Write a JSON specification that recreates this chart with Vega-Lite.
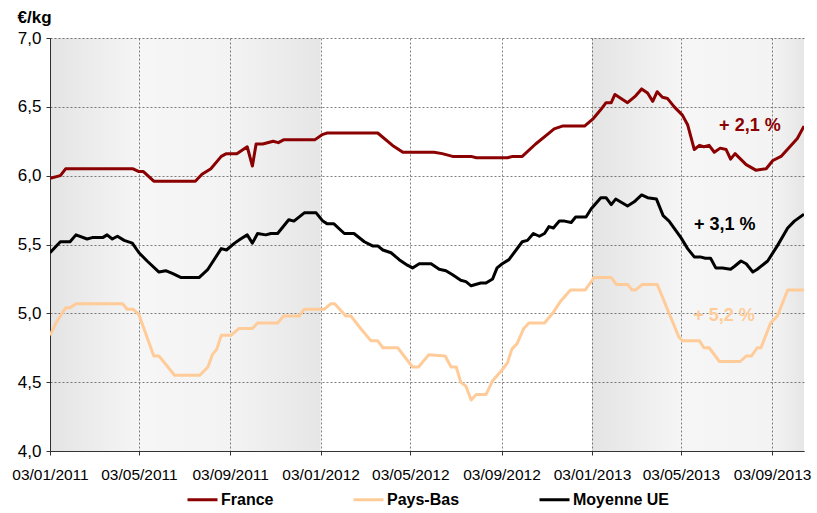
{
  "$schema": "https://vega.github.io/schema/vega-lite/v6.json",
  "width": 754,
  "height": 413,
  "autosize": {"type": "none"},
  "padding": {"left": 50, "top": 38, "right": 13, "bottom": 62},
  "config": {
    "font": "Liberation Sans",
    "view": {"stroke": null},
    "background": "white"
  },
  "datasets": {
    "bands": [
      {"start": "2011-01-03", "end": "2011-05-03", "part": "rise"},
      {"start": "2011-05-03", "end": "2011-09-03", "part": "flat"},
      {"start": "2011-09-03", "end": "2012-01-03", "part": "fall"},
      {"start": "2013-01-03", "end": "2013-05-03", "part": "rise"},
      {"start": "2013-05-03", "end": "2013-09-03", "part": "flat"},
      {"start": "2013-09-03", "end": "2013-10-16", "part": "fall"}
    ],
    "notes": [
      {"date": "2013-08-04", "value": 6.358, "series": "France", "label": "+ 2,1 %"},
      {"date": "2013-07-01", "value": 5.643, "series": "Moyenne UE", "label": "+ 3,1 %"},
      {"date": "2013-06-30", "value": 4.977, "series": "Pays-Bas", "label": "+ 5,2 %"}
    ],
    "prices": [
      {"date": "2011-01-03", "series": "France", "value": 5.98},
      {"date": "2011-01-17", "series": "France", "value": 6.00},
      {"date": "2011-01-24", "series": "France", "value": 6.05},
      {"date": "2011-04-25", "series": "France", "value": 6.05},
      {"date": "2011-05-03", "series": "France", "value": 6.03},
      {"date": "2011-05-09", "series": "France", "value": 6.03},
      {"date": "2011-05-23", "series": "France", "value": 5.96},
      {"date": "2011-07-18", "series": "France", "value": 5.96},
      {"date": "2011-07-27", "series": "France", "value": 6.01},
      {"date": "2011-08-08", "series": "France", "value": 6.05},
      {"date": "2011-08-22", "series": "France", "value": 6.14},
      {"date": "2011-08-29", "series": "France", "value": 6.16},
      {"date": "2011-09-12", "series": "France", "value": 6.16},
      {"date": "2011-09-26", "series": "France", "value": 6.21},
      {"date": "2011-10-03", "series": "France", "value": 6.07},
      {"date": "2011-10-08", "series": "France", "value": 6.23},
      {"date": "2011-10-17", "series": "France", "value": 6.23},
      {"date": "2011-10-31", "series": "France", "value": 6.25},
      {"date": "2011-11-07", "series": "France", "value": 6.24},
      {"date": "2011-11-14", "series": "France", "value": 6.26},
      {"date": "2011-12-26", "series": "France", "value": 6.26},
      {"date": "2012-01-06", "series": "France", "value": 6.30},
      {"date": "2012-01-12", "series": "France", "value": 6.31},
      {"date": "2012-03-20", "series": "France", "value": 6.31},
      {"date": "2012-04-09", "series": "France", "value": 6.22},
      {"date": "2012-04-23", "series": "France", "value": 6.17},
      {"date": "2012-06-04", "series": "France", "value": 6.17},
      {"date": "2012-06-15", "series": "France", "value": 6.16},
      {"date": "2012-06-29", "series": "France", "value": 6.14},
      {"date": "2012-07-24", "series": "France", "value": 6.14},
      {"date": "2012-07-31", "series": "France", "value": 6.13},
      {"date": "2012-09-11", "series": "France", "value": 6.13},
      {"date": "2012-09-18", "series": "France", "value": 6.14},
      {"date": "2012-10-01", "series": "France", "value": 6.14},
      {"date": "2012-10-19", "series": "France", "value": 6.23},
      {"date": "2012-11-04", "series": "France", "value": 6.30},
      {"date": "2012-11-13", "series": "France", "value": 6.34},
      {"date": "2012-11-24", "series": "France", "value": 6.36},
      {"date": "2012-12-24", "series": "France", "value": 6.36},
      {"date": "2013-01-04", "series": "France", "value": 6.41},
      {"date": "2013-01-15", "series": "France", "value": 6.48},
      {"date": "2013-01-22", "series": "France", "value": 6.53},
      {"date": "2013-01-29", "series": "France", "value": 6.53},
      {"date": "2013-02-03", "series": "France", "value": 6.59},
      {"date": "2013-02-20", "series": "France", "value": 6.53},
      {"date": "2013-03-03", "series": "France", "value": 6.58},
      {"date": "2013-03-11", "series": "France", "value": 6.63},
      {"date": "2013-03-19", "series": "France", "value": 6.60},
      {"date": "2013-03-26", "series": "France", "value": 6.54},
      {"date": "2013-04-01", "series": "France", "value": 6.61},
      {"date": "2013-04-08", "series": "France", "value": 6.57},
      {"date": "2013-04-15", "series": "France", "value": 6.56},
      {"date": "2013-04-24", "series": "France", "value": 6.50},
      {"date": "2013-05-05", "series": "France", "value": 6.44},
      {"date": "2013-05-12", "series": "France", "value": 6.37},
      {"date": "2013-05-21", "series": "France", "value": 6.19},
      {"date": "2013-05-28", "series": "France", "value": 6.22},
      {"date": "2013-06-03", "series": "France", "value": 6.21},
      {"date": "2013-06-10", "series": "France", "value": 6.22},
      {"date": "2013-06-17", "series": "France", "value": 6.17},
      {"date": "2013-06-25", "series": "France", "value": 6.20},
      {"date": "2013-07-03", "series": "France", "value": 6.19},
      {"date": "2013-07-09", "series": "France", "value": 6.12},
      {"date": "2013-07-15", "series": "France", "value": 6.16},
      {"date": "2013-07-30", "series": "France", "value": 6.08},
      {"date": "2013-08-12", "series": "France", "value": 6.04},
      {"date": "2013-08-26", "series": "France", "value": 6.05},
      {"date": "2013-09-04", "series": "France", "value": 6.11},
      {"date": "2013-09-15", "series": "France", "value": 6.14},
      {"date": "2013-10-07", "series": "France", "value": 6.27},
      {"date": "2013-10-16", "series": "France", "value": 6.36},

      {"date": "2011-01-03", "series": "Pays-Bas", "value": 4.84},
      {"date": "2011-01-11", "series": "Pays-Bas", "value": 4.93},
      {"date": "2011-01-24", "series": "Pays-Bas", "value": 5.04},
      {"date": "2011-01-30", "series": "Pays-Bas", "value": 5.04},
      {"date": "2011-02-07", "series": "Pays-Bas", "value": 5.07},
      {"date": "2011-04-11", "series": "Pays-Bas", "value": 5.07},
      {"date": "2011-04-17", "series": "Pays-Bas", "value": 5.03},
      {"date": "2011-04-25", "series": "Pays-Bas", "value": 5.03},
      {"date": "2011-05-03", "series": "Pays-Bas", "value": 4.99},
      {"date": "2011-05-23", "series": "Pays-Bas", "value": 4.69},
      {"date": "2011-05-30", "series": "Pays-Bas", "value": 4.69},
      {"date": "2011-06-20", "series": "Pays-Bas", "value": 4.55},
      {"date": "2011-07-24", "series": "Pays-Bas", "value": 4.55},
      {"date": "2011-08-04", "series": "Pays-Bas", "value": 4.61},
      {"date": "2011-08-10", "series": "Pays-Bas", "value": 4.70},
      {"date": "2011-08-16", "series": "Pays-Bas", "value": 4.74},
      {"date": "2011-08-22", "series": "Pays-Bas", "value": 4.84},
      {"date": "2011-09-04", "series": "Pays-Bas", "value": 4.84},
      {"date": "2011-09-15", "series": "Pays-Bas", "value": 4.89},
      {"date": "2011-10-03", "series": "Pays-Bas", "value": 4.89},
      {"date": "2011-10-10", "series": "Pays-Bas", "value": 4.93},
      {"date": "2011-11-06", "series": "Pays-Bas", "value": 4.93},
      {"date": "2011-11-14", "series": "Pays-Bas", "value": 4.98},
      {"date": "2011-12-05", "series": "Pays-Bas", "value": 4.98},
      {"date": "2011-12-12", "series": "Pays-Bas", "value": 5.03},
      {"date": "2012-01-08", "series": "Pays-Bas", "value": 5.03},
      {"date": "2012-01-17", "series": "Pays-Bas", "value": 5.07},
      {"date": "2012-01-22", "series": "Pays-Bas", "value": 5.07},
      {"date": "2012-02-06", "series": "Pays-Bas", "value": 4.98},
      {"date": "2012-02-13", "series": "Pays-Bas", "value": 4.98},
      {"date": "2012-02-26", "series": "Pays-Bas", "value": 4.89},
      {"date": "2012-03-11", "series": "Pays-Bas", "value": 4.80},
      {"date": "2012-03-20", "series": "Pays-Bas", "value": 4.80},
      {"date": "2012-03-27", "series": "Pays-Bas", "value": 4.75},
      {"date": "2012-04-16", "series": "Pays-Bas", "value": 4.75},
      {"date": "2012-05-06", "series": "Pays-Bas", "value": 4.61},
      {"date": "2012-05-14", "series": "Pays-Bas", "value": 4.61},
      {"date": "2012-05-28", "series": "Pays-Bas", "value": 4.70},
      {"date": "2012-06-19", "series": "Pays-Bas", "value": 4.69},
      {"date": "2012-06-27", "series": "Pays-Bas", "value": 4.61},
      {"date": "2012-07-04", "series": "Pays-Bas", "value": 4.61},
      {"date": "2012-07-10", "series": "Pays-Bas", "value": 4.50},
      {"date": "2012-07-17", "series": "Pays-Bas", "value": 4.47},
      {"date": "2012-07-24", "series": "Pays-Bas", "value": 4.37},
      {"date": "2012-07-31", "series": "Pays-Bas", "value": 4.41},
      {"date": "2012-08-13", "series": "Pays-Bas", "value": 4.41},
      {"date": "2012-08-22", "series": "Pays-Bas", "value": 4.51},
      {"date": "2012-09-04", "series": "Pays-Bas", "value": 4.59},
      {"date": "2012-09-11", "series": "Pays-Bas", "value": 4.64},
      {"date": "2012-09-17", "series": "Pays-Bas", "value": 4.74},
      {"date": "2012-09-24", "series": "Pays-Bas", "value": 4.78},
      {"date": "2012-10-03", "series": "Pays-Bas", "value": 4.89},
      {"date": "2012-10-10", "series": "Pays-Bas", "value": 4.93},
      {"date": "2012-10-31", "series": "Pays-Bas", "value": 4.93},
      {"date": "2012-11-11", "series": "Pays-Bas", "value": 5.00},
      {"date": "2012-11-22", "series": "Pays-Bas", "value": 5.09},
      {"date": "2012-12-05", "series": "Pays-Bas", "value": 5.17},
      {"date": "2012-12-25", "series": "Pays-Bas", "value": 5.17},
      {"date": "2013-01-06", "series": "Pays-Bas", "value": 5.26},
      {"date": "2013-01-29", "series": "Pays-Bas", "value": 5.26},
      {"date": "2013-02-05", "series": "Pays-Bas", "value": 5.21},
      {"date": "2013-02-20", "series": "Pays-Bas", "value": 5.21},
      {"date": "2013-02-26", "series": "Pays-Bas", "value": 5.17},
      {"date": "2013-03-03", "series": "Pays-Bas", "value": 5.17},
      {"date": "2013-03-12", "series": "Pays-Bas", "value": 5.21},
      {"date": "2013-04-01", "series": "Pays-Bas", "value": 5.21},
      {"date": "2013-04-30", "series": "Pays-Bas", "value": 4.83},
      {"date": "2013-05-05", "series": "Pays-Bas", "value": 4.80},
      {"date": "2013-05-28", "series": "Pays-Bas", "value": 4.80},
      {"date": "2013-06-03", "series": "Pays-Bas", "value": 4.75},
      {"date": "2013-06-10", "series": "Pays-Bas", "value": 4.75},
      {"date": "2013-06-24", "series": "Pays-Bas", "value": 4.65},
      {"date": "2013-07-22", "series": "Pays-Bas", "value": 4.65},
      {"date": "2013-07-30", "series": "Pays-Bas", "value": 4.69},
      {"date": "2013-08-06", "series": "Pays-Bas", "value": 4.69},
      {"date": "2013-08-14", "series": "Pays-Bas", "value": 4.75},
      {"date": "2013-08-19", "series": "Pays-Bas", "value": 4.75},
      {"date": "2013-09-01", "series": "Pays-Bas", "value": 4.93},
      {"date": "2013-09-10", "series": "Pays-Bas", "value": 4.98},
      {"date": "2013-09-24", "series": "Pays-Bas", "value": 5.17},
      {"date": "2013-10-16", "series": "Pays-Bas", "value": 5.17},

      {"date": "2011-01-03", "series": "Moyenne UE", "value": 5.44},
      {"date": "2011-01-17", "series": "Moyenne UE", "value": 5.52},
      {"date": "2011-01-30", "series": "Moyenne UE", "value": 5.52},
      {"date": "2011-02-07", "series": "Moyenne UE", "value": 5.57},
      {"date": "2011-02-22", "series": "Moyenne UE", "value": 5.54},
      {"date": "2011-03-01", "series": "Moyenne UE", "value": 5.55},
      {"date": "2011-03-15", "series": "Moyenne UE", "value": 5.55},
      {"date": "2011-03-21", "series": "Moyenne UE", "value": 5.57},
      {"date": "2011-03-28", "series": "Moyenne UE", "value": 5.54},
      {"date": "2011-04-04", "series": "Moyenne UE", "value": 5.56},
      {"date": "2011-04-13", "series": "Moyenne UE", "value": 5.53},
      {"date": "2011-04-24", "series": "Moyenne UE", "value": 5.51},
      {"date": "2011-05-03", "series": "Moyenne UE", "value": 5.44},
      {"date": "2011-05-14", "series": "Moyenne UE", "value": 5.38},
      {"date": "2011-05-30", "series": "Moyenne UE", "value": 5.30},
      {"date": "2011-06-08", "series": "Moyenne UE", "value": 5.31},
      {"date": "2011-06-17", "series": "Moyenne UE", "value": 5.29},
      {"date": "2011-06-29", "series": "Moyenne UE", "value": 5.26},
      {"date": "2011-07-08", "series": "Moyenne UE", "value": 5.26},
      {"date": "2011-07-23", "series": "Moyenne UE", "value": 5.26},
      {"date": "2011-08-04", "series": "Moyenne UE", "value": 5.32},
      {"date": "2011-08-22", "series": "Moyenne UE", "value": 5.47},
      {"date": "2011-08-29", "series": "Moyenne UE", "value": 5.46},
      {"date": "2011-09-09", "series": "Moyenne UE", "value": 5.51},
      {"date": "2011-09-17", "series": "Moyenne UE", "value": 5.54},
      {"date": "2011-09-26", "series": "Moyenne UE", "value": 5.57},
      {"date": "2011-10-03", "series": "Moyenne UE", "value": 5.51},
      {"date": "2011-10-10", "series": "Moyenne UE", "value": 5.58},
      {"date": "2011-10-21", "series": "Moyenne UE", "value": 5.57},
      {"date": "2011-10-28", "series": "Moyenne UE", "value": 5.58},
      {"date": "2011-11-06", "series": "Moyenne UE", "value": 5.58},
      {"date": "2011-11-21", "series": "Moyenne UE", "value": 5.68},
      {"date": "2011-11-28", "series": "Moyenne UE", "value": 5.67},
      {"date": "2011-12-12", "series": "Moyenne UE", "value": 5.73},
      {"date": "2011-12-28", "series": "Moyenne UE", "value": 5.73},
      {"date": "2012-01-06", "series": "Moyenne UE", "value": 5.67},
      {"date": "2012-01-12", "series": "Moyenne UE", "value": 5.65},
      {"date": "2012-01-21", "series": "Moyenne UE", "value": 5.65},
      {"date": "2012-02-04", "series": "Moyenne UE", "value": 5.58},
      {"date": "2012-02-17", "series": "Moyenne UE", "value": 5.58},
      {"date": "2012-03-02", "series": "Moyenne UE", "value": 5.52},
      {"date": "2012-03-13", "series": "Moyenne UE", "value": 5.49},
      {"date": "2012-03-20", "series": "Moyenne UE", "value": 5.49},
      {"date": "2012-03-27", "series": "Moyenne UE", "value": 5.46},
      {"date": "2012-04-07", "series": "Moyenne UE", "value": 5.44},
      {"date": "2012-04-18", "series": "Moyenne UE", "value": 5.39},
      {"date": "2012-04-29", "series": "Moyenne UE", "value": 5.35},
      {"date": "2012-05-06", "series": "Moyenne UE", "value": 5.33},
      {"date": "2012-05-15", "series": "Moyenne UE", "value": 5.36},
      {"date": "2012-05-31", "series": "Moyenne UE", "value": 5.36},
      {"date": "2012-06-11", "series": "Moyenne UE", "value": 5.32},
      {"date": "2012-06-20", "series": "Moyenne UE", "value": 5.31},
      {"date": "2012-06-29", "series": "Moyenne UE", "value": 5.28},
      {"date": "2012-07-10", "series": "Moyenne UE", "value": 5.24},
      {"date": "2012-07-17", "series": "Moyenne UE", "value": 5.23},
      {"date": "2012-07-24", "series": "Moyenne UE", "value": 5.20},
      {"date": "2012-08-06", "series": "Moyenne UE", "value": 5.22},
      {"date": "2012-08-13", "series": "Moyenne UE", "value": 5.22},
      {"date": "2012-08-22", "series": "Moyenne UE", "value": 5.25},
      {"date": "2012-08-28", "series": "Moyenne UE", "value": 5.33},
      {"date": "2012-09-04", "series": "Moyenne UE", "value": 5.36},
      {"date": "2012-09-13", "series": "Moyenne UE", "value": 5.39},
      {"date": "2012-10-01", "series": "Moyenne UE", "value": 5.52},
      {"date": "2012-10-08", "series": "Moyenne UE", "value": 5.53},
      {"date": "2012-10-16", "series": "Moyenne UE", "value": 5.58},
      {"date": "2012-10-24", "series": "Moyenne UE", "value": 5.56},
      {"date": "2012-10-31", "series": "Moyenne UE", "value": 5.58},
      {"date": "2012-11-06", "series": "Moyenne UE", "value": 5.63},
      {"date": "2012-11-12", "series": "Moyenne UE", "value": 5.62},
      {"date": "2012-11-20", "series": "Moyenne UE", "value": 5.67},
      {"date": "2012-11-27", "series": "Moyenne UE", "value": 5.67},
      {"date": "2012-12-06", "series": "Moyenne UE", "value": 5.66},
      {"date": "2012-12-12", "series": "Moyenne UE", "value": 5.70},
      {"date": "2012-12-26", "series": "Moyenne UE", "value": 5.70},
      {"date": "2013-01-02", "series": "Moyenne UE", "value": 5.76},
      {"date": "2013-01-15", "series": "Moyenne UE", "value": 5.84},
      {"date": "2013-01-22", "series": "Moyenne UE", "value": 5.84},
      {"date": "2013-01-29", "series": "Moyenne UE", "value": 5.79},
      {"date": "2013-02-04", "series": "Moyenne UE", "value": 5.83},
      {"date": "2013-02-20", "series": "Moyenne UE", "value": 5.78},
      {"date": "2013-03-01", "series": "Moyenne UE", "value": 5.81},
      {"date": "2013-03-11", "series": "Moyenne UE", "value": 5.86},
      {"date": "2013-03-19", "series": "Moyenne UE", "value": 5.84},
      {"date": "2013-03-31", "series": "Moyenne UE", "value": 5.83},
      {"date": "2013-04-09", "series": "Moyenne UE", "value": 5.71},
      {"date": "2013-04-17", "series": "Moyenne UE", "value": 5.67},
      {"date": "2013-05-03", "series": "Moyenne UE", "value": 5.55},
      {"date": "2013-05-12", "series": "Moyenne UE", "value": 5.47},
      {"date": "2013-05-21", "series": "Moyenne UE", "value": 5.41},
      {"date": "2013-05-29", "series": "Moyenne UE", "value": 5.41},
      {"date": "2013-06-05", "series": "Moyenne UE", "value": 5.40},
      {"date": "2013-06-12", "series": "Moyenne UE", "value": 5.40},
      {"date": "2013-06-19", "series": "Moyenne UE", "value": 5.33},
      {"date": "2013-06-28", "series": "Moyenne UE", "value": 5.33},
      {"date": "2013-07-09", "series": "Moyenne UE", "value": 5.32},
      {"date": "2013-07-14", "series": "Moyenne UE", "value": 5.34},
      {"date": "2013-07-23", "series": "Moyenne UE", "value": 5.38},
      {"date": "2013-07-30", "series": "Moyenne UE", "value": 5.36},
      {"date": "2013-08-08", "series": "Moyenne UE", "value": 5.30},
      {"date": "2013-08-14", "series": "Moyenne UE", "value": 5.32},
      {"date": "2013-08-28", "series": "Moyenne UE", "value": 5.38},
      {"date": "2013-09-10", "series": "Moyenne UE", "value": 5.49},
      {"date": "2013-09-24", "series": "Moyenne UE", "value": 5.62},
      {"date": "2013-10-03", "series": "Moyenne UE", "value": 5.67},
      {"date": "2013-10-16", "series": "Moyenne UE", "value": 5.72}
    ]
  },
  "layer": [
    {
      "data": {"name": "bands"},
      "transform": [{"filter": "datum.part === 'rise'"}],
      "mark": {"type": "rect", "clip": true, "fill": {"gradient": "linear", "x1": 0, "y1": 0, "x2": 1, "y2": 0, "stops": [{"offset": 0, "color": "rgba(0,0,0,0.105)"}, {"offset": 1, "color": "rgba(0,0,0,0.04)"}]}},
      "encoding": {
        "x": {"field": "start", "type": "temporal"},
        "x2": {"field": "end"}
      }
    },
    {
      "data": {"name": "bands"},
      "transform": [{"filter": "datum.part === 'flat'"}],
      "mark": {"type": "rect", "clip": true, "fill": {"gradient": "linear", "x1": 0, "y1": 0, "x2": 1, "y2": 0, "stops": [{"offset": 0, "color": "rgba(0,0,0,0.035)"}, {"offset": 1, "color": "rgba(0,0,0,0.048)"}]}},
      "encoding": {
        "x": {"field": "start", "type": "temporal"},
        "x2": {"field": "end"}
      }
    },
    {
      "data": {"name": "bands"},
      "transform": [{"filter": "datum.part === 'fall'"}],
      "mark": {"type": "rect", "clip": true, "fill": {"gradient": "linear", "x1": 0, "y1": 0, "x2": 1, "y2": 0, "stops": [{"offset": 0, "color": "rgba(0,0,0,0.048)"}, {"offset": 1, "color": "rgba(0,0,0,0.098)"}]}},
      "encoding": {
        "x": {"field": "start", "type": "temporal"},
        "x2": {"field": "end"}
      }
    },
    {
      "data": {"name": "prices"},
      "mark": {"type": "line", "strokeWidth": 3, "strokeJoin": "round", "strokeCap": "butt", "clip": true},
      "encoding": {
        "x": {
          "field": "date", "type": "temporal",
          "scale": {"type": "utc", "domain": [{"year": 2011, "month": 1, "date": 3, "utc": true}, {"year": 2013, "month": 10, "date": 16, "utc": true}]},
          "axis": {
            "title": null,
            "values": [
              {"year": 2011, "month": 1, "date": 3, "utc": true},
              {"year": 2011, "month": 5, "date": 3, "utc": true},
              {"year": 2011, "month": 9, "date": 3, "utc": true},
              {"year": 2012, "month": 1, "date": 3, "utc": true},
              {"year": 2012, "month": 5, "date": 3, "utc": true},
              {"year": 2012, "month": 9, "date": 3, "utc": true},
              {"year": 2013, "month": 1, "date": 3, "utc": true},
              {"year": 2013, "month": 5, "date": 3, "utc": true},
              {"year": 2013, "month": 9, "date": 3, "utc": true}
            ],
            "format": "%d/%m/%Y",
            "labelFontSize": 15.5,
            "labelColor": "#000000",
            "labelFlush": false,
            "labelOverlap": false,
            "labelPadding": 12,
            "tickSize": 4,
            "tickColor": "#333333",
            "domainColor": "#333333",
            "grid": true,
            "gridColor": "#808080",
            "gridDash": [2, 2],
            "gridWidth": 1
          }
        },
        "y": {
          "field": "value", "type": "quantitative",
          "scale": {"domain": [4, 7], "nice": false, "zero": false},
          "axis": {
            "title": "€/kg",
            "titleAngle": 0,
            "titleAlign": "left",
            "titleBaseline": "middle",
            "titleX": -33,
            "titleY": -21,
            "titleFontSize": 17,
            "titleFontWeight": "bold",
            "titleColor": "#000000",
            "values": [4, 4.5, 5, 5.5, 6, 6.5, 7],
            "labelExpr": "replace(format(datum.value, '.1f'), '.', ',')",
            "labelFontSize": 17,
            "labelColor": "#000000",
            "labelFlush": false,
            "labelPadding": 5,
            "tickSize": 4,
            "tickColor": "#333333",
            "domainColor": "#333333",
            "grid": true,
            "gridColor": "#808080",
            "gridDash": [2, 2],
            "gridWidth": 1
          }
        },
        "color": {
          "field": "series", "type": "nominal",
          "scale": {"domain": ["France", "Pays-Bas", "Moyenne UE"], "range": ["#8b0000", "#ffcc99", "#000000"]},
          "legend": {
            "title": null,
            "orient": "none",
            "direction": "horizontal",
            "legendX": 136,
            "legendY": 445,
            "padding": 0,
            "columns": 3,
            "columnPadding": 73,
            "symbolType": "stroke",
            "symbolSize": 900,
            "symbolStrokeWidth": 3,
            "labelOffset": 2,
            "labelFontSize": 16,
            "labelFontWeight": "bold",
            "labelColor": "#000000"
          }
        }
      }
    },
    {
      "data": {"name": "notes"},
      "transform": [{"filter": "datum.series === 'France'"}],
      "mark": {"type": "text", "fontSize": 18, "fontWeight": "bold", "color": "#8b0000", "align": "center", "baseline": "middle"},
      "encoding": {"x": {"field": "date", "type": "temporal"}, "y": {"field": "value", "type": "quantitative"}, "text": {"field": "label"}}
    },
    {
      "data": {"name": "notes"},
      "transform": [{"filter": "datum.series === 'Moyenne UE'"}],
      "mark": {"type": "text", "fontSize": 18, "fontWeight": "bold", "color": "#000000", "align": "center", "baseline": "middle"},
      "encoding": {"x": {"field": "date", "type": "temporal"}, "y": {"field": "value", "type": "quantitative"}, "text": {"field": "label"}}
    },
    {
      "data": {"name": "notes"},
      "transform": [{"filter": "datum.series === 'Pays-Bas'"}],
      "mark": {"type": "text", "fontSize": 18, "fontWeight": "bold", "color": "#ffcc99", "align": "center", "baseline": "middle"},
      "encoding": {"x": {"field": "date", "type": "temporal"}, "y": {"field": "value", "type": "quantitative"}, "text": {"field": "label"}}
    }
  ]
}
